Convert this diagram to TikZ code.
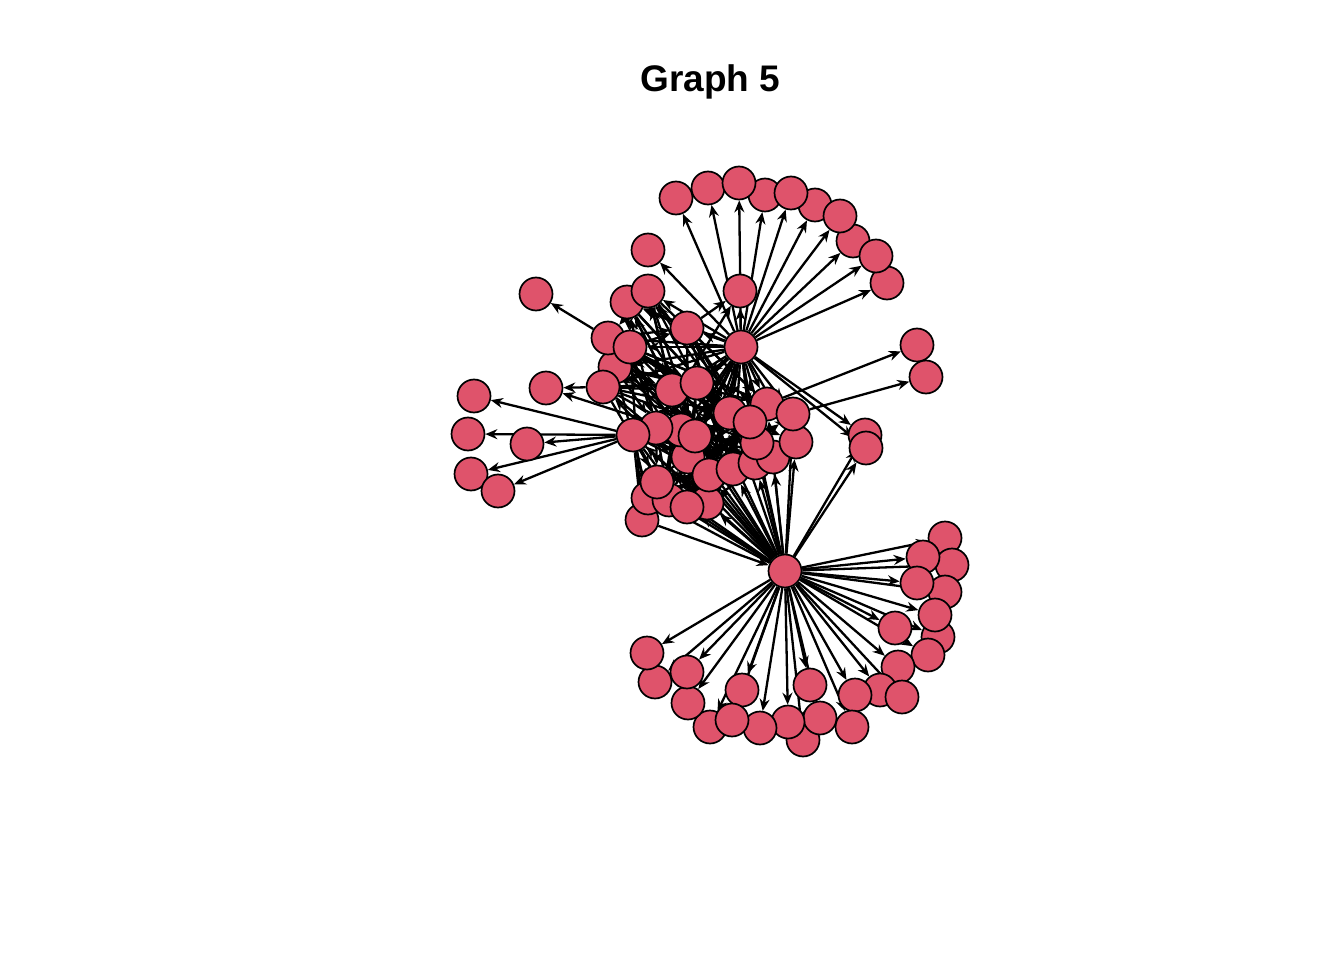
\documentclass[tikz,border=0pt]{standalone}
\usepackage{fontspec}
\setmainfont{Liberation Sans}
\usetikzlibrary{arrows.meta}
\pgfdeclarelayer{bg}
\pgfsetlayers{bg,main}
\definecolor{nodered}{HTML}{DF536B}
\begin{document}
\begin{tikzpicture}[x=1pt,y=-1pt,
  v/.style={circle,draw=black,line width=1.7pt,fill=nodered,minimum size=33pt,inner sep=0pt},
  e/.style={line width=2.3pt,-{Stealth[length=12pt,width=10pt,inset=4pt]}}]
\useasboundingbox (0,0) rectangle (1344,960);
\node[font=\bfseries\fontsize{37}{44}\selectfont,anchor=base] (title) at (710.5,92) {Graph 5};
% top arc
\foreach \n/\x/\y in {t8/853/241,t10/887/283,t9/876/256,t6/815/205,t7/840/216,t4/765/195,t5/791/193,t2/708/188,t3/739/183,t1/676/198,u1/740/291,u2/648/250}
  \node[v] (\n) at (\x,\y) {};
% left top
\foreach \n/\x/\y in {L1/536/294,L2/627/302,L3/648/291,L6/615/367,L4/608/338,L5/630/347,L7/603/387,L8/546/388,L9/687/328,L10/672/390,L11/697/383}
  \node[v] (\n) at (\x,\y) {};
% left fan
\foreach \n/\x/\y in {f1/474/396,f2/468/434,f3/527/444,f4/471/474,f5/498/491}
  \node[v] (\n) at (\x,\y) {};
% right
\foreach \n/\x/\y in {r1/917/345,r2/926/377,m1/865/435,m2/866/448}
  \node[v] (\n) at (\x,\y) {};
% cluster
\foreach \n/\x/\y in {c20/642/520,c16/648/498,c17/669/500,c19/707/503,c18/687/507,c15/657/482,c14/688/457,c13/709/475,c12/733/469,c11/755/463,c10/773/457,c9/757/443,c8/796/442,c2/681/430,c3/695/436,c1/656/428,F/633/435,c6/767/404,c4/730/413,c5/750/422,c7/793/414}
  \node[v] (\n) at (\x,\y) {};
% bottom arc
\foreach \n/\x/\y in {b1/945/538,b3/952/565,b2/923/557,b5/945/592,b4/917/583,b7/938/637,b6/935/615,b8/895/628,b9/928/655,b10/898/667,b11/880/690,b12/902/697,b13/855/695,b14/852/727,b17/803/740,b16/810/685,b15/820/718,b18/788/722,b19/760/728,b20/742/690,b22/710/727,b21/732/720,b23/688/703,b24/687/672,b25/655/682,b26/647/653}
  \node[v] (\n) at (\x,\y) {};
% hubs
\node[v] (A) at (741,347) {};
\node[v] (B) at (785,571) {};
\begin{pgfonlayer}{bg}
\foreach \s/\t in {A/t1,A/t2,A/t3,A/t4,A/t5,A/t6,A/t7,A/t8,A/t9,A/t10,A/u1,A/u2,A/m1,A/m2,
  A/L2,A/L3,A/L4,A/L5,A/L6,A/L9,A/L10,A/L11,A/c1,A/c2,A/c3,A/c4,A/c5,A/c6,A/c7,A/c9,A/c11,A/c12,A/c13,A/c14,A/F,A/L7,
  A/c10,A/c15,A/c16,A/c17,A/c18,A/c19,A/c8,
  B/b1,B/b2,B/b3,B/b4,B/b5,B/b6,B/b7,B/b8,B/b9,B/b10,B/b11,B/b12,B/b13,B/b14,B/b15,B/b16,B/b17,B/b18,B/b19,B/b20,B/b21,B/b22,B/b23,B/b24,B/b25,B/b26,
  B/m1,B/m2,B/c8,B/c9,B/c10,B/c11,B/c12,B/c13,B/c14,B/c17,B/c18,B/c19,B/c15,B/c16,B/c1,B/c3,B/c4,B/c5,B/c6,B/c7,B/F,B/c2,
  B/L10,B/L11,B/L7,
  c20/B,F/f1,F/f2,F/f3,F/f4,F/f5,L7/L8,c3/L8,L4/L1,c6/r1,c7/r2,
  c2/L3,c4/L3,c3/L2,L9/L2,L10/L3,c1/L2,L9/u1,c1/u1,
  L5/c4,L5/c5,L5/c9,L4/c2,L4/c12,L6/c6,L6/c3,L7/c4,L7/c9,L7/c13,L5/L9,L4/L9,L6/L10,L7/L11,L5/c7,L4/c5,
  c1/c4,c1/c6,c1/c12,c2/c5,c2/c10,c3/c9,c3/c11,c14/c4,c14/c6,c13/c5,c13/c7,c15/c9,c15/c4,c16/c12,c16/c10,c17/c5,c17/c11,c18/c4,c19/c9,c20/c13,
  F/c4,F/c9,F/c11,F/c12,F/c13,F/c14,F/c15,F/c16,F/c17,c1/c15,c1/c17,c2/c18,c15/c18,c16/c19,L10/c9,L11/c10,L10/c12,L11/c5,L9/c4,L9/c6,L9/c12,
  L2/c12,L3/c13,L4/c14,L6/c16,L7/c17,L5/c20,L10/c17,L11/c18,
  L2/c4,L3/c5,L2/L10,L3/L11,L4/L11,L5/L10,L6/L11,L7/L10,L2/L5,L3/L4,L6/c1,L7/c2,L4/c3,L5/c1,
  L2/c9,L3/c6,L4/c7,L5/c10,L6/c11,L9/c9,L9/c10,L9/c14,L10/c10,L11/c12,L11/c14,
  c20/c14,c20/c12,c16/c13,c16/c11,c17/c12,c18/c11,c19/c12,c19/c10,c18/c13,c17/c14,c15/c13,c15/c11,
  F/c1,F/c2,F/c3,F/c10,F/c18,F/c19,F/c20,c1/c14,c1/c13,c2/c12,c2/c13,c3/c12,c3/c13,c14/c12,c14/c9,c13/c9,c13/c11,c12/c10,c4/c10,c5/c10,c4/c11,c6/c8,c7/c8,c5/c8,c9/c8}
  \draw[e] (\s) -- (\t);
\end{pgfonlayer}
\end{tikzpicture}
\end{document}
